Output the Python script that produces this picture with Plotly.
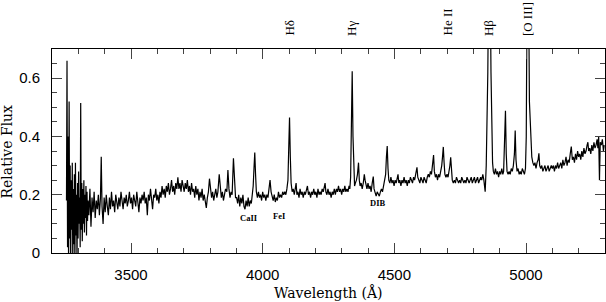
import plotly.graph_objects as go

# ---------------- data ----------------
wl_a = [3255, 3257, 3259, 3261, 3263, 3265, 3267, 3269, 3271, 3273, 3275, 3277, 3279, 3281,
        3283, 3285, 3287, 3289, 3291, 3293, 3295, 3297, 3299, 3301, 3303, 3305, 3307, 3309,
        3311, 3313, 3315, 3317, 3319, 3321, 3323, 3325, 3327, 3329, 3331, 3333, 3335, 3337]
fx_a = [0.18, 0.66, 0.02, 0.40, -0.05, 0.52, 0.05, 0.30, -0.05, 0.25, 0.08, 0.31, -0.05, 0.22,
        0.03, 0.27, -0.05, 0.31, 0.06, 0.20, -0.03, 0.24, 0.05, 0.28, 0.10, 0.19, 0.02, 0.515,
        0.08, 0.24, 0.04, 0.22, 0.10, 0.25, 0.07, 0.20, 0.12, 0.23, 0.06, 0.21, 0.11, 0.18]

wl_b = [3340, 3344, 3348, 3352, 3356, 3360, 3364, 3368, 3372, 3376, 3380, 3384, 3387, 3390,
        3394, 3398, 3402, 3406, 3410, 3414, 3418, 3422, 3426, 3430, 3434, 3438, 3442, 3446,
        3450, 3454, 3458, 3462, 3466, 3470, 3474, 3478, 3482, 3486, 3490, 3494, 3498, 3502,
        3506, 3510, 3514, 3518, 3522, 3526, 3530, 3534, 3538, 3542, 3546, 3550, 3554, 3558,
        3562, 3566, 3570, 3574, 3578, 3582, 3586, 3590, 3594, 3598]
fx_b = [0.13, 0.22, 0.09, 0.19, 0.14, 0.21, 0.12, 0.18, 0.15, 0.20, 0.13, 0.19, 0.33, 0.16,
        0.10, 0.19, 0.14, 0.20, 0.16, 0.13, 0.19, 0.15, 0.21, 0.16, 0.18, 0.14, 0.20, 0.17,
        0.15, 0.19, 0.16, 0.21, 0.17, 0.15, 0.19, 0.17, 0.20, 0.16, 0.18, 0.21, 0.17, 0.19,
        0.15, 0.20, 0.18, 0.16, 0.21, 0.18, 0.14, 0.19, 0.17, 0.20, 0.18, 0.21, 0.17, 0.19,
        0.13, 0.20, 0.18, 0.22, 0.18, 0.15, 0.20, 0.19, 0.22, 0.18]

wl_c = [3602, 3606, 3610, 3614, 3618, 3622, 3626, 3630, 3634, 3638, 3642, 3646, 3650, 3654,
        3658, 3662, 3666, 3670, 3674, 3678, 3682, 3686, 3690, 3694, 3698, 3702, 3706, 3710,
        3714, 3718, 3722, 3726, 3730, 3734, 3738, 3742, 3746, 3750, 3754, 3758, 3762, 3766,
        3770, 3774, 3778, 3782, 3786, 3790, 3794, 3798, 3802, 3806, 3810, 3814, 3818, 3822,
        3826, 3830, 3835, 3839, 3843, 3847, 3851, 3855, 3859, 3864, 3868, 3872, 3876, 3880,
        3884, 3889, 3893, 3897]
fx_c = [0.20, 0.17, 0.21, 0.19, 0.23, 0.20, 0.22, 0.19, 0.23, 0.21, 0.24, 0.20, 0.22, 0.25,
        0.21, 0.23, 0.20, 0.24, 0.22, 0.26, 0.22, 0.24, 0.21, 0.25, 0.23, 0.21, 0.24, 0.22,
        0.25, 0.21, 0.23, 0.20, 0.24, 0.21, 0.22, 0.19, 0.23, 0.20, 0.22, 0.18, 0.21, 0.19,
        0.22, 0.18, 0.20, 0.17, 0.155, 0.19, 0.21, 0.255, 0.22, 0.19, 0.21, 0.18, 0.20, 0.22,
        0.19, 0.21, 0.27, 0.21, 0.19, 0.21, 0.18, 0.20, 0.22, 0.21, 0.285, 0.22, 0.19, 0.21,
        0.20, 0.325, 0.22, 0.19]

wl_d = [3901, 3905, 3909, 3913, 3917, 3921, 3925, 3929, 3933, 3937, 3941, 3945, 3949, 3953,
        3957, 3961, 3964, 3967, 3970, 3973, 3976, 3980, 3984, 3988, 3992, 3996, 4000, 4004,
        4008, 4012, 4016, 4020, 4024, 4028, 4032, 4036, 4040, 4044, 4048, 4052, 4056, 4060,
        4064, 4068, 4072, 4076, 4080, 4084, 4088, 4092, 4096, 4099, 4102, 4105, 4108, 4112]
fx_d = [0.19, 0.17, 0.20, 0.16, 0.19, 0.17, 0.20, 0.16, 0.15, 0.18, 0.16, 0.19, 0.16, 0.18,
        0.17, 0.20, 0.23, 0.29, 0.345, 0.27, 0.21, 0.19, 0.21, 0.19, 0.20, 0.18, 0.21, 0.19,
        0.20, 0.18, 0.20, 0.19, 0.22, 0.25, 0.21, 0.19, 0.18, 0.20, 0.175, 0.19, 0.18, 0.21,
        0.19, 0.20, 0.19, 0.21, 0.20, 0.21, 0.20, 0.22, 0.25, 0.36, 0.465, 0.33, 0.24, 0.21]

wl_e = [4116, 4120, 4124, 4127, 4130, 4134, 4138, 4142, 4146, 4150, 4154, 4158, 4162, 4166,
        4170, 4174, 4178, 4182, 4186, 4190, 4194, 4198, 4202, 4206, 4210, 4214, 4218, 4222,
        4226, 4230, 4234, 4237, 4240, 4244, 4248, 4252, 4256, 4260, 4264, 4268, 4272, 4276,
        4280, 4284, 4288, 4292, 4296, 4300, 4304, 4308, 4312, 4316, 4320, 4324, 4328, 4331,
        4334, 4337, 4340, 4343, 4346, 4349]
fx_e = [0.22, 0.20, 0.23, 0.24, 0.20, 0.21, 0.19, 0.22, 0.20, 0.21, 0.19, 0.21, 0.20, 0.22,
        0.23, 0.20, 0.21, 0.19, 0.21, 0.20, 0.22, 0.20, 0.21, 0.19, 0.22, 0.20, 0.21, 0.20,
        0.22, 0.21, 0.23, 0.24, 0.21, 0.20, 0.22, 0.20, 0.21, 0.19, 0.21, 0.20, 0.22, 0.20,
        0.22, 0.21, 0.23, 0.21, 0.22, 0.20, 0.22, 0.21, 0.23, 0.21, 0.22, 0.21, 0.23, 0.22,
        0.26, 0.42, 0.624, 0.40, 0.26, 0.23]

wl_f = [4352, 4356, 4360, 4364, 4367, 4370, 4374, 4378, 4382, 4386, 4389, 4392, 4396, 4400,
        4404, 4408, 4412, 4416, 4420, 4423, 4427, 4431, 4435, 4439, 4443, 4447, 4451, 4455,
        4459, 4463, 4467, 4470, 4473, 4476, 4479, 4483, 4487, 4491, 4495, 4499, 4503, 4507,
        4511, 4514, 4517, 4521, 4525, 4529, 4533, 4537, 4541, 4545, 4549, 4553, 4557, 4561,
        4565, 4569, 4573, 4577, 4581, 4586, 4589, 4593, 4597, 4601, 4605, 4609, 4613, 4617,
        4621]
fx_f = [0.24, 0.25, 0.27, 0.31, 0.25, 0.23, 0.24, 0.22, 0.24, 0.27, 0.25, 0.23, 0.22, 0.24,
        0.22, 0.23, 0.21, 0.24, 0.262, 0.22, 0.21, 0.195, 0.21, 0.20, 0.195, 0.21, 0.22, 0.21,
        0.23, 0.24, 0.27, 0.33, 0.367, 0.29, 0.25, 0.24, 0.26, 0.24, 0.25, 0.23, 0.25, 0.24,
        0.26, 0.27, 0.24, 0.25, 0.23, 0.25, 0.24, 0.26, 0.24, 0.25, 0.23, 0.25, 0.24, 0.26,
        0.25, 0.24, 0.26, 0.25, 0.27, 0.294, 0.26, 0.25, 0.24, 0.26, 0.25, 0.24, 0.26, 0.25,
        0.24]

wl_g = [4625, 4629, 4633, 4637, 4641, 4645, 4649, 4652, 4656, 4660, 4664, 4668, 4672, 4676,
        4680, 4683, 4686, 4689, 4692, 4696, 4700, 4704, 4708, 4711, 4714, 4717, 4720, 4724,
        4728, 4732, 4736, 4740, 4744, 4748, 4752, 4756, 4760, 4764, 4768, 4772, 4776, 4780,
        4784, 4788, 4792, 4796, 4800, 4804, 4808, 4812, 4816, 4820, 4824, 4828, 4832, 4836,
        4840, 4845, 4849, 4852, 4855, 4858, 4861, 4864, 4867, 4870, 4873, 4876, 4880, 4884,
        4888, 4892, 4896, 4900, 4904, 4908, 4912, 4915, 4918, 4922, 4925, 4928, 4932, 4936,
        4940, 4944, 4948, 4952, 4956, 4959, 4962, 4966, 4970, 4974, 4978, 4982, 4986, 4990,
        4994, 4998]
fx_g = [0.26, 0.27, 0.26, 0.28, 0.27, 0.30, 0.336, 0.28, 0.26, 0.27, 0.25, 0.27, 0.26, 0.28,
        0.30, 0.33, 0.364, 0.31, 0.27, 0.26, 0.27, 0.26, 0.28, 0.30, 0.328, 0.27, 0.25, 0.24,
        0.25, 0.24, 0.26, 0.25, 0.24, 0.25, 0.24, 0.26, 0.25, 0.24, 0.25, 0.24, 0.26, 0.25,
        0.24, 0.25, 0.26, 0.24, 0.25, 0.26, 0.24, 0.25, 0.26, 0.24, 0.25, 0.26, 0.25, 0.27,
        0.25, 0.21, 0.30, 0.42, 0.62, 0.95, 1.20, 0.95, 0.62, 0.40, 0.31, 0.28, 0.27, 0.29,
        0.27, 0.28, 0.26, 0.28, 0.27, 0.29, 0.27, 0.28, 0.35, 0.488, 0.34, 0.28, 0.27, 0.28,
        0.27, 0.29, 0.28, 0.30, 0.34, 0.42, 0.32, 0.28, 0.29, 0.27, 0.28, 0.27, 0.29, 0.28,
        0.27, 0.29]

wl_h = [5001, 5004, 5007, 5010, 5013, 5016, 5019, 5022, 5026, 5030, 5034, 5038, 5042, 5046,
        5049, 5052, 5056, 5060, 5064, 5068, 5072, 5076, 5080, 5084, 5088, 5092, 5096, 5100,
        5104, 5108, 5112, 5116, 5120, 5124, 5128, 5132, 5136, 5140, 5144, 5148, 5152, 5156,
        5160, 5164, 5168, 5172, 5176, 5180, 5184, 5188, 5192, 5196, 5200, 5204, 5208, 5212,
        5216, 5220, 5224, 5228, 5232, 5235, 5238, 5242, 5246, 5250, 5254, 5258, 5262, 5266,
        5270, 5273, 5276, 5279, 5282, 5286, 5290, 5294, 5297]
fx_h = [0.40, 0.90, 1.80, 0.90, 0.52, 0.467, 0.40, 0.33, 0.31, 0.30, 0.31, 0.29, 0.31, 0.32,
        0.342, 0.30, 0.29, 0.30, 0.28, 0.29, 0.30, 0.28, 0.29, 0.30, 0.28, 0.29, 0.30, 0.29,
        0.30, 0.28, 0.30, 0.29, 0.31, 0.29, 0.30, 0.31, 0.29, 0.32, 0.30, 0.31, 0.33, 0.30,
        0.32, 0.31, 0.34, 0.365, 0.32, 0.33, 0.31, 0.34, 0.32, 0.35, 0.33, 0.34, 0.32, 0.35,
        0.33, 0.36, 0.34, 0.35, 0.37, 0.38, 0.35, 0.36, 0.34, 0.37, 0.35, 0.38, 0.36, 0.37,
        0.39, 0.36, 0.40, 0.25, 0.38, 0.37, 0.39, 0.35, 0.37]

line_names = ["H&#948;", "H&#947;", "He II", "H&#946;", "[O III]"]
line_waves = [4102, 4337, 4700, 4860, 5008]

feat_names = ["CaII", "FeI", "DIB"]
feat_waves = [3947, 4064, 4437]
feat_flux = [0.12, 0.128, 0.171]

x_ticks = [3500, 4000, 4500, 5000]
y_ticks = [0, 0.2, 0.4, 0.6]

# ---------------- figure ----------------
wave = wl_a + wl_b + wl_c + wl_d + wl_e + wl_f + wl_g + wl_h
flux = fx_a + fx_b + fx_c + fx_d + fx_e + fx_f + fx_g + fx_h

fig = go.Figure()
fig.add_trace(go.Scatter(x=wave, y=flux, mode="lines",
                         line=dict(color="black", width=1.2), hoverinfo="skip"))

axis_common = dict(showline=True, linecolor="black", linewidth=1, mirror="allticks",
                   ticks="inside", tickcolor="#444", tickwidth=1, showgrid=False,
                   zeroline=False, automargin=False,
                   tickfont=dict(family="Liberation Sans", size=15, color="black"))

fig.update_xaxes(range=[3200, 5300], tickvals=x_ticks, ticklen=10,
                 minor=dict(dtick=100, tick0=3200, ticklen=5, ticks="inside", tickcolor="#444"),
                 ticklabelstandoff=8, **axis_common)
fig.update_yaxes(range=[0, 0.7], tickvals=y_ticks, ticklen=10,
                 minor=dict(dtick=0.05, tick0=0, ticklen=5, ticks="inside", tickcolor="#444"),
                 ticklabelstandoff=8, **axis_common)

annotations = []
for name, w in zip(line_names, line_waves):
    annotations.append(dict(x=w, y=1.054, xref="x", yref="paper", text=name, textangle=-90,
                            xanchor="center", yanchor="bottom", showarrow=False,
                            font=dict(family="Liberation Serif", size=13, color="black")))
for name, w, f in zip(feat_names, feat_waves, feat_flux):
    annotations.append(dict(x=w, y=f, xref="x", yref="y", text="<b>" + name + "</b>",
                            showarrow=False, xanchor="center", yanchor="middle",
                            font=dict(family="Liberation Serif", size=8.5, color="black")))
annotations.append(dict(x=0.5, y=-0.194, xref="paper", yref="paper", text="Wavelength (&#197;)",
                        showarrow=False, xanchor="center", yanchor="middle",
                        font=dict(family="DejaVu Serif", size=14, color="black")))
annotations.append(dict(x=-0.0805, y=0.5, xref="paper", yref="paper", text="Relative Flux",
                        textangle=-90, showarrow=False, xanchor="center", yanchor="middle",
                        font=dict(family="DejaVu Serif", size=14, color="black")))

fig.update_layout(template="none", width=606, height=302,
                  margin=dict(l=52, r=1, t=49, b=49, autoexpand=False),
                  paper_bgcolor="white", plot_bgcolor="white", showlegend=False,
                  annotations=annotations)

fig.write_html("out.html", config={"displayModeBar": False},
               post_script="document.body.style.margin='0';document.body.style.overflow='hidden';")
